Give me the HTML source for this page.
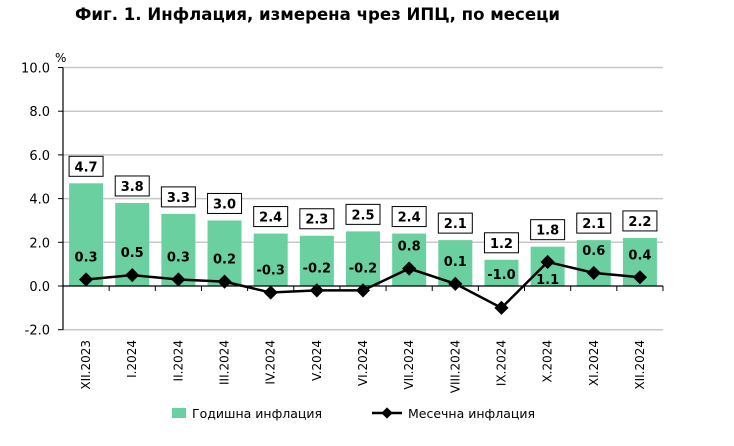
<!DOCTYPE html>
<html><head><meta charset="utf-8"><style>
body{margin:0;background:#fff;width:734px;height:442px;overflow:hidden;font-family:"DejaVu Sans","Liberation Sans",sans-serif}
svg text{font-family:"DejaVu Sans","Liberation Sans",sans-serif}
</style></head><body>
<svg id="c" width="734" height="442">
<text x="75" y="20" font-size="16.5" font-weight="bold" fill="#000" textLength="485" lengthAdjust="spacingAndGlyphs">Фиг. 1. Инфлация, измерена чрез ИПЦ, по месеци</text>
<text x="55" y="62" font-size="12">%</text>
</svg>
<script>
const categories=["XII.2023","I.2024","II.2024","III.2024","IV.2024","V.2024","VI.2024","VII.2024","VIII.2024","IX.2024","X.2024","XI.2024","XII.2024"];
const annual=[4.7,3.8,3.3,3.0,2.4,2.3,2.5,2.4,2.1,1.2,1.8,2.1,2.2];
const monthly=[0.3,0.5,0.3,0.2,-0.3,-0.2,-0.2,0.8,0.1,-1.0,1.1,0.6,0.4];
const yTicks=[-2,0,2,4,6,8,10];
const svg=document.getElementById('c');const NS='http://www.w3.org/2000/svg';
const x0=63,x1=663,step=(x1-x0)/categories.length;
const y=v=>286-v*21.85;const cx=i=>x0+step*(i+0.5);
function el(t,a,p){const e=document.createElementNS(NS,t);for(const k in a)e.setAttribute(k,a[k]);(p||svg).appendChild(e);return e;}
yTicks.forEach(t=>{
 if(t!==0){const g=el('line',{x1:x0,x2:x1,y1:y(t),y2:y(t),stroke:'#c8c8c8','stroke-width':1.5});
 
 }
 const l=el('text',{x:50,y:y(t)+5,'font-size':13,'text-anchor':'end'});l.textContent=t.toFixed(1);
 
 
 el('line',{x1:x0-5,x2:x0,y1:y(t),y2:y(t),stroke:'#000'});
});
annual.forEach((v,i)=>{
 const b=el('rect',{x:cx(i)-17,y:y(v),width:34,height:y(0)-y(v),fill:'#6bd0a0'});
 
 
 const bx=el('rect',{x:cx(i)-17,y:y(v)-27,width:34,height:20,fill:'#fff',stroke:'#000','stroke-width':1});
 
 
 const t=el('text',{x:cx(i),y:y(v)-12,'font-size':13,'font-weight':'bold','text-anchor':'middle'});t.textContent=v.toFixed(1);
 
 
 const xl=el('text',{x:0,y:0,'font-size':12,'text-anchor':'end',transform:`translate(${cx(i)+4},340) rotate(-90)`});xl.textContent=categories[i];
 
 
});
el('line',{x1:x0,x2:x0,y1:y(10),y2:y(-2),stroke:'#000','stroke-width':1.2});
el('line',{x1:x0,x2:x1,y1:y(0),y2:y(0),stroke:'#000','stroke-width':1.2});
for(let i=0;i<=categories.length;i++)el('line',{x1:x0+step*i,x2:x0+step*i,y1:y(0),y2:y(0)+5,stroke:'#000'});
const ln=el('polyline',{points:monthly.map((v,i)=>cx(i)+','+y(v)).join(' '),fill:'none',stroke:'#000','stroke-width':2.5});


monthly.forEach((v,i)=>{
 const p=el('rect',{x:cx(i)-5,y:y(v)-5,width:10,height:10,fill:'#000',transform:`rotate(45 ${cx(i)} ${y(v)})`});
 
 
 let ly=v>1?y(v)+22:Math.min(y(v)-18,y(0)-7);
 const t=el('text',{x:cx(i),y:ly,'font-size':13,'font-weight':'bold','text-anchor':'middle'});t.textContent=v.toFixed(1);
 
 
});
</script>
<svg style="position:absolute;left:0;top:0" width="734" height="442">
<g>
<rect x="172" y="408" width="14" height="10" fill="#6bd0a0"/>
<text x="192" y="418" font-size="12.5">Годишна инфлация</text>
<line x1="372" y1="413" x2="402" y2="413" stroke="#000" stroke-width="2.5"/>
<rect x="383" y="409" width="8" height="8" fill="#000" transform="rotate(45 387 413)"/>
<text x="408" y="418" font-size="12.5">Месечна инфлация</text>
</g></svg>
</body></html>
